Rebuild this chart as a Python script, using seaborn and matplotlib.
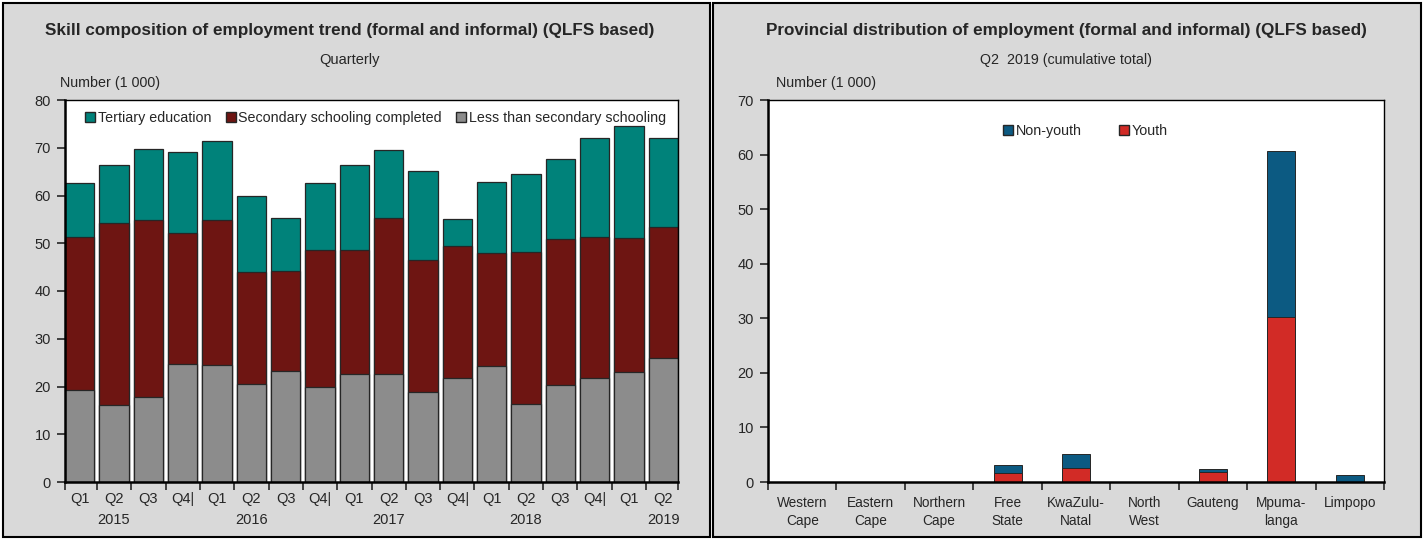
#!/usr/bin/env python3

import numpy as np
import pandas as pd
import matplotlib as mpl

mpl.use("Agg")

import matplotlib.pyplot as plt
import seaborn as sns
from matplotlib.patches import Patch, Rectangle

# --- data, left chart (number in 1 000) ---
periods = ["2015Q1", "2015Q2", "2015Q3", "2015Q4", "2016Q1", "2016Q2", "2016Q3", "2016Q4",
           "2017Q1", "2017Q2", "2017Q3", "2017Q4", "2018Q1", "2018Q2", "2018Q3", "2018Q4",
           "2019Q1", "2019Q2"]
period_labels = ["Q1", "Q2\n2015", "Q3", "Q4|", "Q1", "Q2\n2016", "Q3", "Q4|",
                 "Q1", "Q2\n2017", "Q3", "Q4|", "Q1", "Q2\n2018", "Q3", "Q4|",
                 "Q1", "Q2\n2019"]
less_than_secondary = [19.2, 16.1, 17.7, 24.8, 24.4, 20.5, 23.2, 19.9, 22.7,
                       22.7, 18.9, 21.7, 24.3, 16.3, 20.4, 21.7, 23.1, 25.9]
secondary_completed = [32.2, 38.2, 37.2, 27.3, 30.5, 23.4, 21.0, 28.7, 25.9,
                       32.5, 27.6, 27.8, 23.7, 31.9, 30.4, 29.7, 28.1, 27.4]
tertiary = [11.2, 12.0, 14.8, 17.1, 16.5, 16.1, 11.1, 14.0, 17.7,
            14.3, 18.6, 5.6, 14.9, 16.3, 16.8, 20.6, 23.4, 18.7]

# --- data, right chart ---
provinces = ["Western\nCape", "Eastern\nCape", "Northern\nCape", "Free\nState", "KwaZulu-\nNatal",
             "North\nWest", "Gauteng", "Mpuma-\nlanga", "Limpopo"]
youth = [0, 0, 0, 1.7, 2.6, 0, 1.8, 30.3, 0]
non_youth = [0, 0, 0, 1.4, 2.5, 0, 0.5, 30.3, 1.2]

skill = pd.DataFrame({"period": periods,
                      "less": less_than_secondary,
                      "secondary": secondary_completed,
                      "tertiary": tertiary})
skill["sec_top"] = skill["less"] + skill["secondary"]
skill["total"] = skill["sec_top"] + skill["tertiary"]

prov = pd.DataFrame({"province": provinces, "youth": youth, "non_youth": non_youth})
prov["total"] = prov["youth"] + prov["non_youth"]

sns.set_style("ticks")
plt.rcParams["font.family"] = ["Liberation Sans", "DejaVu Sans"]
plt.rcParams["font.size"] = 10

BG = "#d9d9d9"
TEAL = "#00827a"
MAROON = "#6e1512"
GREY = "#8c8c8c"
BLUE = "#0c5a82"
RED = "#d22b26"
EDGE = "#262626"

fig = plt.figure(figsize=(14.24, 5.4), dpi=100)
fig.patch.set_facecolor("white")

# panel backgrounds
for x0, x1 in [(3, 710), (713, 1421)]:
    fig.patches.append(Rectangle((x0 / 1424, 3 / 540), (x1 - x0) / 1424, 534 / 540,
                                 transform=fig.transFigure, facecolor=BG,
                                 edgecolor="black", linewidth=1.5, zorder=-10))

axL = fig.add_axes([65 / 1424, 1 - 482 / 540, 613 / 1424, 382 / 540])
axR = fig.add_axes([768 / 1424, 1 - 482 / 540, 616 / 1424, 382 / 540])

# left: stacked bars via cumulative tops
bw = 0.855
sns.barplot(data=skill, x="period", y="total", order=periods, color=TEAL, width=bw,
            edgecolor=EDGE, linewidth=0.9, saturation=1, ax=axL)
sns.barplot(data=skill, x="period", y="sec_top", order=periods, color=MAROON, width=bw,
            edgecolor=EDGE, linewidth=0.9, saturation=1, ax=axL)
sns.barplot(data=skill, x="period", y="less", order=periods, color=GREY, width=bw,
            edgecolor=EDGE, linewidth=0.9, saturation=1, ax=axL)

n = len(periods)
axL.set_xlim(-bw / 2, n - 1 + bw / 2)
axL.set_ylim(0, 80)
axL.set_yticks(np.arange(0, 81, 10))
axL.set_xticks(range(n))
axL.set_xticklabels(period_labels, fontsize=10.5, linespacing=1.65, va="top")
axL.tick_params(axis="x", length=0, pad=7)
axL.set_xticks([-bw / 2] + list(np.arange(0.5, n - 1, 1)) + [n - 1 + bw / 2], minor=True)
axL.tick_params(axis="x", which="minor", length=6, width=1.2, direction="out")

# right: stacked bars
rw = 0.41
sns.barplot(data=prov, x="province", y="total", order=provinces, color=BLUE, width=rw,
            edgecolor=EDGE, linewidth=0.7, saturation=1, ax=axR)
sns.barplot(data=prov, x="province", y="youth", order=provinces, color=RED, width=rw,
            edgecolor=EDGE, linewidth=0.7, saturation=1, ax=axR)
m = len(provinces)
axR.set_xlim(-0.5, m - 0.5)
axR.set_ylim(0, 70)
axR.set_yticks(np.arange(0, 71, 10))
axR.set_xticks(range(m))
axR.set_xticklabels(provinces, fontsize=9.8, linespacing=1.4)
axR.tick_params(axis="x", length=0, pad=10)
axR.set_xticks(np.arange(-0.5, m, 1), minor=True)
axR.tick_params(axis="x", which="minor", length=6, width=1.2, direction="out")

for ax in (axL, axR):
    ax.set_facecolor("white")
    ax.set_xlabel("")
    ax.set_ylabel("")
    ax.tick_params(axis="y", length=6, width=1.2, direction="out", labelsize=10.5, pad=4)
    for side in ["top", "right"]:
        ax.spines[side].set_visible(True)
        ax.spines[side].set_linewidth(1.0)
        ax.spines[side].set_color("black")
    for side in ["left", "bottom"]:
        ax.spines[side].set_linewidth(1.8)
        ax.spines[side].set_color("black")

# legends
hL = [Patch(facecolor=TEAL, edgecolor=EDGE, label="Tertiary education"),
      Patch(facecolor=MAROON, edgecolor=EDGE, label="Secondary schooling completed"),
      Patch(facecolor=GREY, edgecolor=EDGE, label="Less than secondary schooling")]
axL.legend(handles=hL, loc="upper left", bbox_to_anchor=(0.015, 1.0), ncol=3, frameon=False,
           fontsize=10.3, handlelength=0.7, handleheight=0.7, handletextpad=0.2,
           columnspacing=1.0, borderaxespad=0.35)

hR = [Patch(facecolor=BLUE, edgecolor=EDGE, label="Non-youth"),
      Patch(facecolor=RED, edgecolor=EDGE, label="Youth")]
axR.legend(handles=hR, loc="upper center", bbox_to_anchor=(0.515, 0.97), ncol=2, frameon=False,
           fontsize=10.3, handlelength=0.7, handleheight=0.7, handletextpad=0.2,
           columnspacing=2.6)

# titles
fig.text(350 / 1424, 1 - 30 / 540, "Skill composition of employment trend (formal and informal) (QLFS based)",
         ha="center", va="center", fontsize=12.3, fontweight="bold")
fig.text(350 / 1424, 1 - 60 / 540, "Quarterly", ha="center", va="center", fontsize=10.5)
fig.text(60 / 1424, 1 - 83 / 540, "Number (1 000)", ha="left", va="center", fontsize=10.3)

fig.text(1066 / 1424, 1 - 30 / 540, "Provincial distribution of employment (formal and informal) (QLFS based)",
         ha="center", va="center", fontsize=12.3, fontweight="bold")
fig.text(1066 / 1424, 1 - 60 / 540, "Q2  2019 (cumulative total)", ha="center", va="center", fontsize=10.3)
fig.text(776 / 1424, 1 - 83 / 540, "Number (1 000)", ha="left", va="center", fontsize=10.3)

fig.savefig("out.png", dpi=100, facecolor=fig.get_facecolor())
